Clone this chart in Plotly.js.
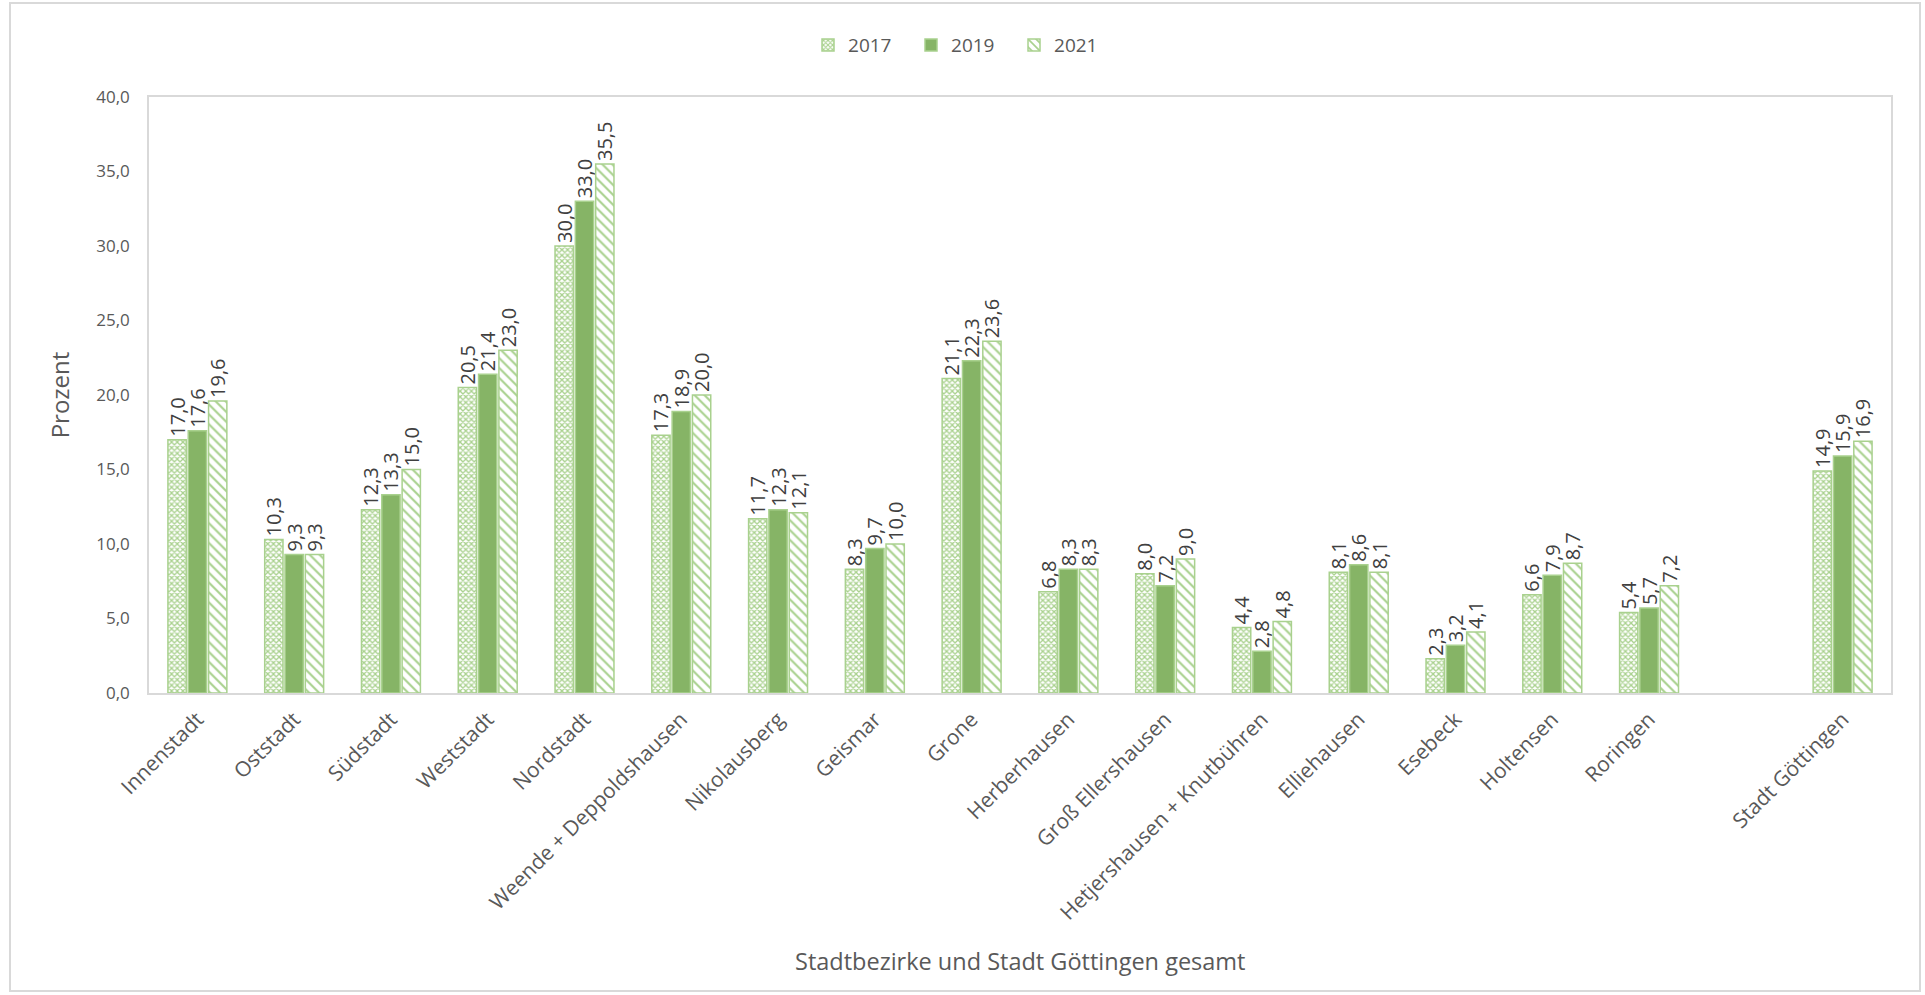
<!DOCTYPE html>
<html>
<head>
<meta charset="utf-8">
<script src="https://cdn.plot.ly/plotly-3.0.1.min.js"></script>
<style>
  html, body { margin: 0; padding: 0; background: #fff; }
  #wrap { position: relative; width: 1925px; height: 995px; }
  #chart { width: 1925px; height: 995px; }
  #frame { position: absolute; left: 9px; top: 2px; width: 1912px; height: 990px; border: 2px solid #D9D9D9; box-sizing: border-box; pointer-events: none; }
</style>
</head>
<body>
<div id="wrap">
  <div id="chart"></div>
  <div id="frame"></div>
</div>
<script>
const categories = ["Innenstadt", "Oststadt", "Südstadt", "Weststadt", "Nordstadt",
  "Weende + Deppoldshausen", "Nikolausberg", "Geismar", "Grone", "Herberhausen",
  "Groß Ellershausen", "Hetjershausen + Knutbühren", "Elliehausen", "Esebeck",
  "Holtensen", "Roringen", " ", "Stadt Göttingen"];
const seriesNames = ["2017", "2019", "2021"];
const values2017 = [17.0, 10.3, 12.3, 20.5, 30.0, 17.3, 11.7, 8.3, 21.1, 6.8, 8.0, 4.4, 8.1, 2.3, 6.6, 5.4, null, 14.9];
const values2019 = [17.6, 9.3, 13.3, 21.4, 33.0, 18.9, 12.3, 9.7, 22.3, 8.3, 7.2, 2.8, 8.6, 3.2, 7.9, 5.7, null, 15.9];
const values2021 = [19.6, 9.3, 15.0, 23.0, 35.5, 20.0, 12.1, 10.0, 23.6, 8.3, 9.0, 4.8, 8.1, 4.1, 8.7, 7.2, null, 16.9];
const yTickValues = [0, 5, 10, 15, 20, 25, 30, 35, 40];

const FONT = "'Open Sans', Lato, sans-serif";
const lightGreen = "#A9D18E";
const midGreen = "#86B466";

function barTrace(name, vals, marker) {
  return {
    type: "bar", name: name, x: categories, y: vals,
    marker: marker,
    texttemplate: "%{y:.1f}",
    textposition: "outside",
    textangle: -90,
    constraintext: "none",
    cliponaxis: false,
    textfont: { family: FONT, size: 20, color: "#404040" },
    hoverinfo: "x+y"
  };
}

const data = [
  barTrace(seriesNames[0], values2017, {
    color: lightGreen,
    line: { color: lightGreen, width: 1.5 },
    pattern: { shape: "x", fgcolor: lightGreen, bgcolor: "#ffffff", size: 4, solidity: 0.55, fillmode: "replace" }
  }),
  barTrace(seriesNames[1], values2019, {
    color: midGreen,
    line: { color: lightGreen, width: 1.5 }
  }),
  barTrace(seriesNames[2], values2021, {
    color: lightGreen,
    line: { color: lightGreen, width: 1.5 },
    pattern: { shape: "\\", fgcolor: lightGreen, bgcolor: "#ffffff", size: 7, solidity: 0.3, fillmode: "replace" }
  })
];

const layout = {
  width: 1925, height: 995,
  margin: { l: 149, r: 34, t: 97, b: 302 },
  paper_bgcolor: "#ffffff", plot_bgcolor: "#ffffff",
  separators: ",.",
  font: { family: FONT, color: "#595959", size: 16 },
  barmode: "group",
  bargap: 0.37,
  bargroupgap: 0.1,
  showlegend: true,
  legend: {
    orientation: "h", x: 0.467, xanchor: "center", y: 1.087, yanchor: "middle",
    font: { family: FONT, size: 19, color: "#595959" },
    entrywidth: 58, entrywidthmode: "pixels", traceorder: "normal"
  },
  xaxis: {
    type: "category",
    categoryorder: "array", categoryarray: categories,
    tickangle: -45,
    tickfont: { family: FONT, size: 21, color: "#595959" },
    ticklabelstandoff: 4,
    showline: true, linecolor: "#D9D9D9", linewidth: 1.5, mirror: true,
    showgrid: false, ticks: "", zeroline: false,
    automargin: false
  },
  yaxis: {
    range: [0, 40],
    tickvals: yTickValues,
    tickformat: ".1f",
    tickfont: { family: FONT, size: 17, color: "#595959" },
    ticklabelstandoff: 14,
    showline: true, linecolor: "#D9D9D9", linewidth: 1.5, mirror: true,
    showgrid: false, ticks: "", zeroline: false,
    automargin: false,
    title: { text: "Prozent", font: { family: FONT, size: 24, color: "#595959" }, standoff: 20 }
  },
  annotations: [{
    text: "Stadtbezirke und Stadt Göttingen gesamt",
    xref: "paper", yref: "paper", x: 0.5, y: -0.45,
    xanchor: "center", yanchor: "middle", showarrow: false,
    font: { family: FONT, size: 23.5, color: "#595959" }
  }]
};

Plotly.newPlot("chart", data, layout, { displayModeBar: false, responsive: false });
</script>
</body>
</html>
